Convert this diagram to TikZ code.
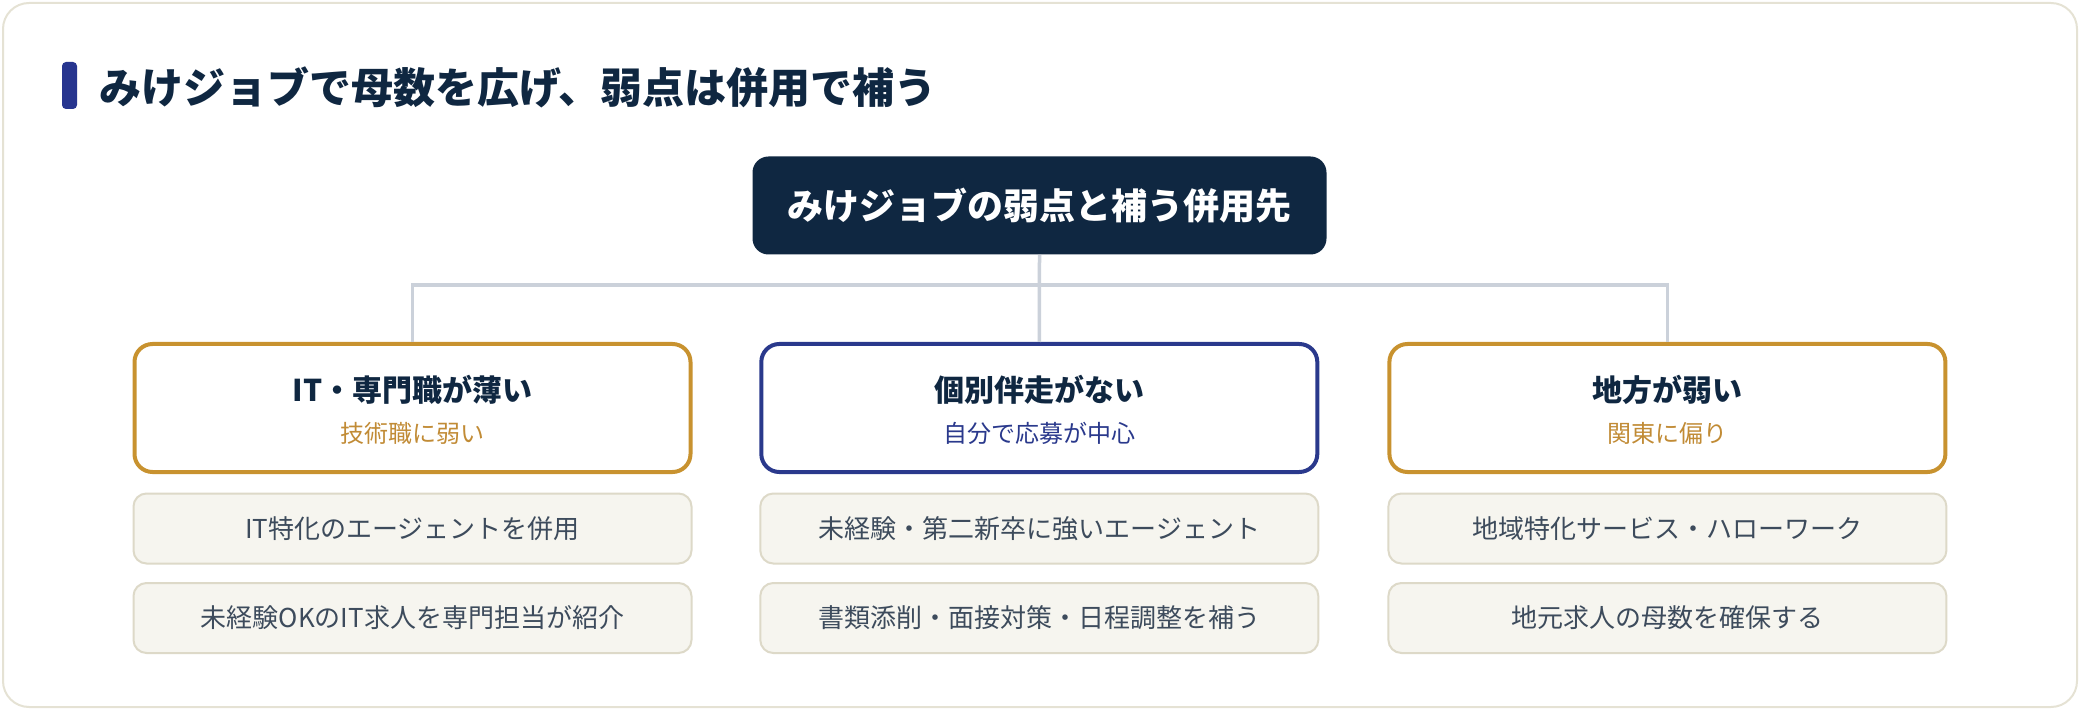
\documentclass[tikz,border=0pt]{standalone}
\usepackage{fontspec}
\setmainfont{Noto Sans CJK JP}
\definecolor{navy}{HTML}{0F2741}
\definecolor{barblue}{HTML}{27358F}
\definecolor{gold}{HTML}{C8922F}
\definecolor{goldtext}{HTML}{C18B35}
\definecolor{midblue}{HTML}{2A398C}
\definecolor{itemtext}{HTML}{3D4B5C}
\definecolor{itemfill}{HTML}{F6F5EF}
\definecolor{itemdraw}{HTML}{DDD9C8}
\definecolor{linkgray}{HTML}{CBD1DA}
\definecolor{cardborder}{HTML}{E5E2D4}
\tikzset{
  rootbox/.style={fill=navy, rounded corners=8pt, minimum width=287pt, minimum height=49pt, inner sep=0pt,
    text=white, font=\fontsize{18pt}{22pt}\selectfont\bfseries},
  catbox/.style={draw=#1, fill=white, line width=2pt, rounded corners=9pt, minimum width=278pt, minimum height=64pt, inner sep=0pt},
  cattitle/.style={text=navy, font=\fontsize{15pt}{18pt}\selectfont\bfseries, inner sep=0pt},
  catsub/.style={text=#1, font=\fontsize{12pt}{15pt}\selectfont, inner sep=0pt},
  itembox/.style={draw=itemdraw, fill=itemfill, line width=1pt, rounded corners=6.5pt, minimum width=279pt, minimum height=35pt,
    inner sep=0pt, text=itemtext, font=\fontsize{13pt}{16pt}\selectfont},
  link/.style={draw=linkgray, line width=1.75pt},
}
\begin{document}
\begin{tikzpicture}[x=0.5pt, y=-0.5pt]
\useasboundingbox (0,0) rectangle (2080,710);
% card
\draw[draw=cardborder, fill=white, line width=1pt, rounded corners=13pt] (3,3) rectangle (2077,707);
% title
\fill[barblue, rounded corners=2pt] (62,62) rectangle (77,109);
\node[anchor=west, inner sep=0pt, text=navy, font=\fontsize{21pt}{25pt}\selectfont\bfseries] (title) at (99,87.5) {みけジョブで母数を広げ、弱点は併用で補う};
% root
\node[rootbox] (root) at (1039.5,205.5) {みけジョブの弱点と補う併用先};
% categories
\node[catbox=gold] (c1) at (412.5,408) {};
\node[catbox=midblue] (c2) at (1039.3,408) {};
\node[catbox=gold] (c3) at (1667.4,408) {};
\node[cattitle] (t1) at (412.5,390) {IT・専門職が薄い};
\node[catsub=goldtext] (s1) at (412.5,433.5) {技術職に弱い};
\node[cattitle] (t2) at (1039.3,390) {個別伴走がない};
\node[catsub=midblue] (s2) at (1039.3,433.5) {自分で応募が中心};
\node[cattitle] (t3) at (1667.4,390) {地方が弱い};
\node[catsub=goldtext] (s3) at (1667.4,433.5) {関東に偏り};
% connectors
\coordinate (bus) at (1039.3,285);
\draw[link] (c1.north) |- (bus) -| (c3.north);
\draw[link] (root.south) -- (c2.north);
% items
\node[itembox] (i11) at (412.5,528.5) {IT特化のエージェントを併用};
\node[itembox] (i12) at (412.5,618) {未経験OKのIT求人を専門担当が紹介};
\node[itembox] (i21) at (1039.3,528.5) {未経験・第二新卒に強いエージェント};
\node[itembox] (i22) at (1039.3,618) {書類添削・面接対策・日程調整を補う};
\node[itembox] (i31) at (1667.4,528.5) {地域特化サービス・ハローワーク};
\node[itembox] (i32) at (1667.4,618) {地元求人の母数を確保する};
\end{tikzpicture}
\end{document}
